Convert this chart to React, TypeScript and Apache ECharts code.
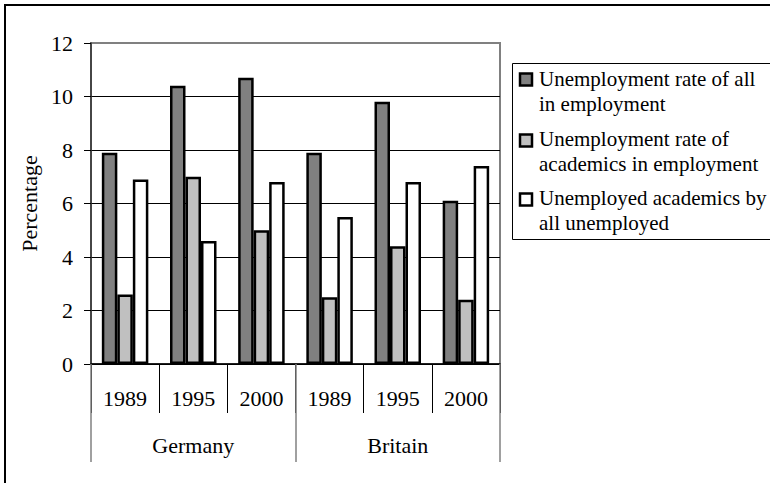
import React, { useEffect, useRef } from "react";
import * as echarts from "echarts";

const years = ["1989", "1995", "2000", "1989", "1995", "2000"];
const countries = ["Germany", "Britain"];
const seriesNames = [
  "Unemployment rate of all\nin employment",
  "Unemployment rate of\nacademics in employment",
  "Unemployed academics by\nall unemployed",
];
const allRate = [7.9, 10.4, 10.7, 7.9, 9.8, 6.1];
const academicRate = [2.6, 7.0, 5.0, 2.5, 4.4, 2.4];
const academicShare = [6.9, 4.6, 6.8, 5.5, 6.8, 7.4];
const yTicks = { min: 0, max: 12, interval: 2 };

const FONT = "'Liberation Serif', 'Times New Roman', serif";
const colors = ["#808080", "#c0c0c0", "#ffffff"];

export default function App() {
  const ref = useRef<HTMLDivElement>(null);
  useEffect(() => {
    if (!ref.current) return;
    const chart = echarts.init(ref.current, null, { renderer: "svg" });
    const values = [allRate, academicRate, academicShare];
    const legendTops = [67, 127, 186];
    const markerTops = [73.5, 134.5, 193.5];
    const graphics: any[] = [
      {
        type: "rect",
        shape: { x: 5, y: 5, width: 800, height: 600 },
        style: { fill: "none", stroke: "#000", lineWidth: 2 },
        silent: true,
        z: -1,
      },
      {
        type: "rect",
        shape: { x: 512.5, y: 63.5, width: 300, height: 176 },
        style: { fill: "#fff", stroke: "#000", lineWidth: 1 },
        z: 10,
      },
    ];
    seriesNames.forEach((name, i) => {
      graphics.push({
        type: "rect",
        shape: { x: 520, y: markerTops[i], width: 12, height: 12 },
        style: { fill: colors[i], stroke: "#000", lineWidth: 2.5 },
        z: 11,
      });
      graphics.push({
        type: "text",
        x: 539,
        y: legendTops[i],
        style: {
          text: name,
          font: `21px ${FONT}`,
          fill: "#000",
          lineHeight: 24.5,
          verticalAlign: "top",
          align: "left",
        },
        z: 11,
      });
    });

    chart.setOption({
      animation: false,
      backgroundColor: "#fff",
      textStyle: { fontFamily: FONT },
      grid: {
        left: 91,
        top: 43,
        width: 409,
        height: 321,
        show: true,
        borderColor: "#808080",
        borderWidth: 2,
        backgroundColor: "transparent",
      },
      xAxis: [
        {
          type: "category",
          data: years,
          position: "bottom",
          axisLine: { show: true, lineStyle: { color: "#000", width: 1.5 } },
          axisTick: {
            show: true,
            interval: 0,
            length: 49,
            lineStyle: { color: "#000", width: 1 },
          },
          axisLabel: {
            interval: 0,
            margin: 23,
            fontSize: 22,
            color: "#000",
            fontFamily: FONT,
          },
          splitLine: { show: false },
        },
        {
          type: "category",
          data: countries,
          position: "bottom",
          axisLine: { show: false },
          axisTick: {
            show: true,
            interval: 0,
            length: 98,
            lineStyle: { color: "#808080", width: 1.5 },
          },
          axisLabel: {
            interval: 0,
            margin: 70,
            fontSize: 22,
            color: "#000",
            fontFamily: FONT,
          },
          splitLine: { show: false },
        },
      ],
      yAxis: {
        type: "value",
        min: yTicks.min,
        max: yTicks.max,
        interval: yTicks.interval,
        name: "Percentage",
        nameLocation: "middle",
        nameGap: 44,
        nameTextStyle: { fontSize: 22, color: "#000", fontFamily: FONT },
        axisLine: { show: true, lineStyle: { color: "#333", width: 1.5 } },
        axisTick: { show: true, length: 7, lineStyle: { color: "#000" } },
        axisLabel: { margin: 18, fontSize: 22, color: "#000", fontFamily: FONT },
        splitLine: {
          show: true,
          lineStyle: {
            color: ["#000", "#000", "#000", "#000", "#000", "#000", "#808080"],
            width: 1,
          },
        },
      },
      series: values.map((v, i) => ({
        name: seriesNames[i],
        type: "bar",
        xAxisIndex: 0,
        data: v,
        barWidth: 15.5,
        barGap: "0%",
        itemStyle: { color: colors[i], borderColor: "#000", borderWidth: 2.5 },
      })),
      graphic: graphics,
    });
    return () => chart.dispose();
  }, []);
  return (
    <div
      ref={ref}
      style={{ position: "fixed", left: 0, top: 0, width: 770, height: 483 }}
    />
  );
}
